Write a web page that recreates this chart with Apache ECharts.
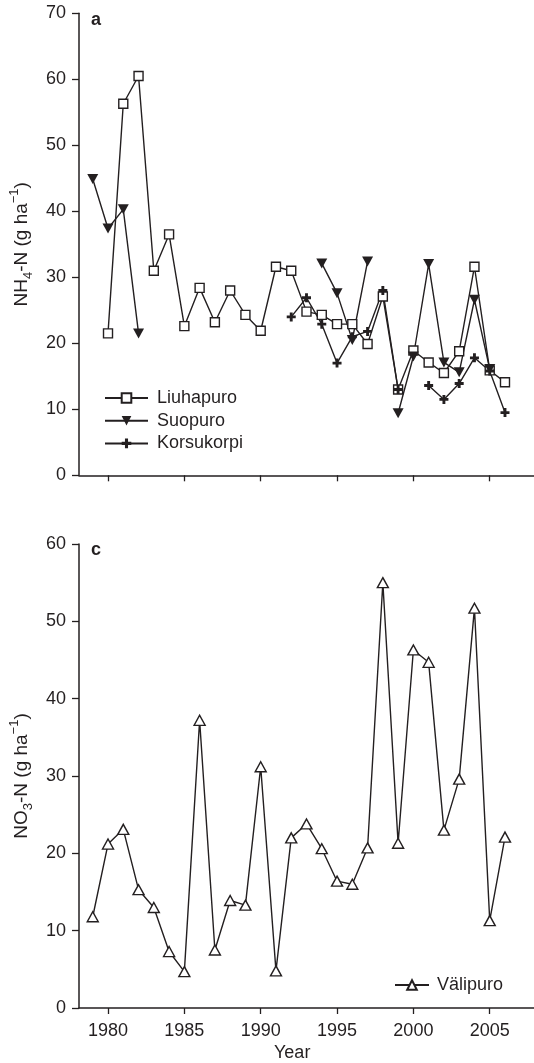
<!DOCTYPE html>
<html>
<head>
<meta charset="utf-8">
<script src="https://cdn.jsdelivr.net/npm/echarts@6/dist/echarts.min.js"></script>
<style>
  html, body { margin: 0; padding: 0; background: #fff; }
  #main { width: 534px; height: 1063px; }
</style>
</head>
<body>
<div id="main"></div>
<script>
// years on the x axis
var years = [1979, 1980, 1981, 1982, 1983, 1984, 1985, 1986, 1987, 1988, 1989, 1990, 1991, 1992,
             1993, 1994, 1995, 1996, 1997, 1998, 1999, 2000, 2001, 2002, 2003, 2004, 2005, 2006];
var xTicks = [1980, 1985, 1990, 1995, 2000, 2005];

// panel a : NH4-N
var liuhapuro = [null, 21.5, 56.3, 60.5, 31.0, 36.5, 22.6, 28.4, 23.2, 28.0, 24.3, 21.9, 31.6, 31.0,
                 24.8, 24.3, 22.9, 22.9, 19.9, 27.1, 13.0, 18.9, 17.1, 15.5, 18.8, 31.6, 15.9, 14.1];
var suopuro = [44.9, 37.4, 40.3, 21.5, null, null, null, null, null, null, null, null, null, null,
               null, 32.1, 27.6, 20.5, 32.4, null, 9.4, 18.0, 32.0, 17.1, 15.6, 26.6, 16.1, null];
var korsukorpi = [null, null, null, null, null, null, null, null, null, null, null, null, null, 24.0,
                  26.9, 22.9, 17.0, 21.0, 21.8, 28.0, 13.0, null, 13.6, 11.5, 13.9, 17.8, 15.8, 9.5];

// panel c : NO3-N
var valipuro = [11.8, 21.2, 23.1, 15.3, 13.0, 7.3, 4.7, 37.2, 7.5, 13.9, 13.3, 31.2, 4.8, 22.0,
                23.8, 20.6, 16.4, 16.0, 20.7, 55.0, 21.3, 46.3, 44.7, 23.0, 29.6, 51.7, 11.3, 22.1];

function pairs(vals) {
  return years.map(function (y, i) { return [y, vals[i]]; });
}

var ink = '#231f20';
var font = 'Liberation Sans';
var crossPath = 'path://M3.4,0H6.6V3.4H10V6.6H6.6V10H3.4V6.6H0V3.4H3.4Z';

function xAxisOpt(gridIndex, showLabels) {
  return {
    type: 'value', gridIndex: gridIndex, min: 1978.1, max: 2007.9,
    axisLine: { show: true, onZero: false, lineStyle: { color: ink, width: 1.5 } },
    axisTick: { show: true, length: 6, customValues: xTicks, lineStyle: { color: ink, width: 1.3 } },
    axisLabel: {
      show: showLabels, customValues: xTicks, margin: 14, color: ink, fontSize: 18, fontFamily: font,
      formatter: function (v) { return String(v); }
    },
    splitLine: { show: false }
  };
}

function yAxisOpt(gridIndex, max, sub) {
  return {
    type: 'value', gridIndex: gridIndex, min: 0, max: max, interval: 10,
    axisLine: { show: true, lineStyle: { color: ink, width: 1.5 } },
    axisTick: { show: true, length: 7, lineStyle: { color: ink, width: 1.3 } },
    axisLabel: { margin: 13, color: ink, fontSize: 18, fontFamily: font },
    splitLine: { show: false },
    name: '{a|' + sub[0] + '}{s|' + sub[1] + '}{a|-N (g ha}{p|\u22121}{a|)}',
    nameLocation: 'middle', nameRotate: 90, nameGap: 44,
    nameTextStyle: {
      color: ink,
      rich: {
        a: { fontSize: 19, fontFamily: font, color: ink, lineHeight: 27 },
        s: { fontSize: 13, fontFamily: font, color: ink, verticalAlign: 'bottom', lineHeight: 27 },
        p: { fontSize: 13, fontFamily: font, color: ink, verticalAlign: 'top', lineHeight: 27 }
      }
    }
  };
}

function lineSeries(name, vals, idx, symbol, size, fill, rotate) {
  return {
    name: name, type: 'line', xAxisIndex: idx, yAxisIndex: idx,
    data: pairs(vals),
    symbol: symbol, symbolSize: size, symbolRotate: rotate || 0,
    showAllSymbol: true, connectNulls: false,
    lineStyle: { color: ink, width: 1.4 },
    itemStyle: { color: fill, borderColor: ink, borderWidth: fill === ink ? 0 : 1.4 },
    emphasis: { disabled: true },
    animation: false
  };
}

var myChart = echarts.init(document.getElementById('main'));

var option = {
  backgroundColor: '#fff',
  animation: false,
  grid: [
    { left: 75, right: 0, top: 13.3, height: 462 },
    { left: 75, right: 0, top: 544, height: 464 }
  ],
  xAxis: [xAxisOpt(0, false), xAxisOpt(1, true)],
  yAxis: [yAxisOpt(0, 70, ['NH', '4']), yAxisOpt(1, 60, ['NO', '3'])],
  legend: [
    {
      data: ['Liuhapuro', 'Suopuro', 'Korsukorpi'],
      orient: 'vertical', left: 99, top: 384, itemWidth: 43, itemHeight: 12, itemGap: 4.7,
      textStyle: { color: ink, fontSize: 18, fontFamily: font, lineHeight: 18, padding: [0, 0, 0, 4] }
    },
    {
      data: ['Välipuro'],
      orient: 'vertical', left: 389, top: 971, itemWidth: 34, itemHeight: 12,
      textStyle: { color: ink, fontSize: 18, fontFamily: font, lineHeight: 18, padding: [0, 0, 0, 3] }
    }
  ],
  graphic: [
    { type: 'text', left: 91, top: 11, style: { text: 'a', font: 'bold 18px Liberation Sans', fill: ink } },
    { type: 'text', left: 91, top: 541, style: { text: 'c', font: 'bold 18px Liberation Sans', fill: ink } },
    { type: 'text', left: 274, top: 1044, style: { text: 'Year', font: '18px Liberation Sans', fill: ink } }
  ],
  series: [
    lineSeries('Liuhapuro', liuhapuro, 0, 'rect', 9, '#fff'),
    lineSeries('Suopuro', suopuro, 0, 'triangle', [11, 10], ink, 180),
    lineSeries('Korsukorpi', korsukorpi, 0, crossPath, 9, ink),
    lineSeries('Välipuro', valipuro, 1, 'triangle', [11, 10], '#fff')
  ]
};

option && myChart.setOption(option);
</script>
</body>
</html>
